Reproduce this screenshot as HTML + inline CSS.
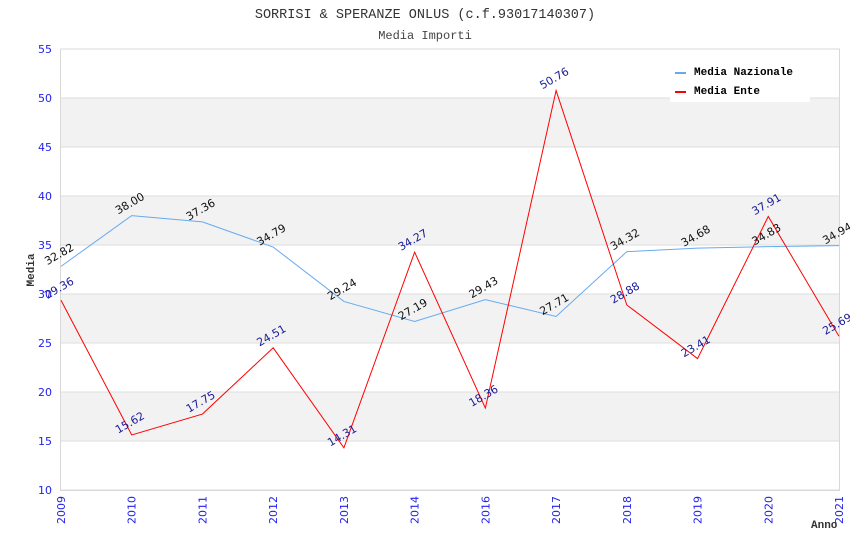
<!DOCTYPE html>
<html><head><meta charset="utf-8"><style>
body{margin:0;background:#fff;width:850px;height:550px;overflow:hidden}
svg{display:block}
</style></head><body>
<svg id="chart" width="850" height="550" xmlns="http://www.w3.org/2000/svg">
<text x="425" y="18" text-anchor="middle" font-family="Liberation Mono, monospace" font-size="13.5" fill="#333">SORRISI &amp; SPERANZE ONLUS (c.f.93017140307)</text>
<text x="425" y="39" text-anchor="middle" font-family="Liberation Mono, monospace" font-size="12" fill="#444">Media Importi</text>
<g id="grid"></g>
<g id="series"></g>
<g id="labels"></g>
<text transform="translate(34,270) rotate(-90)" text-anchor="middle" font-family="Liberation Mono, monospace" font-size="11" font-weight="bold" fill="#333">Media</text>
<text x="811" y="528" font-family="Liberation Mono, monospace" font-size="11" font-weight="bold" fill="#333">Anno</text>
<g>
<rect x="670" y="58" width="140" height="44" fill="#fff"/>
<line x1="675" y1="73" x2="686" y2="73" stroke="#66aaee" stroke-width="2"/>
<text x="694" y="75" font-family="Liberation Mono, monospace" font-size="11" font-weight="bold" fill="#000">Media Nazionale</text>
<line x1="675" y1="92" x2="686" y2="92" stroke="#ff0000" stroke-width="2"/>
<text x="694" y="94" font-family="Liberation Mono, monospace" font-size="11" font-weight="bold" fill="#000">Media Ente</text>
</g>
</svg>
<script>
const categories=["2009","2010","2011","2012","2013","2014","2016","2017","2018","2019","2020","2021"];
const nazionale=[32.82,38.00,37.36,34.79,29.24,27.19,29.43,27.71,34.32,34.68,34.83,34.94];
const ente=[29.36,15.62,17.75,24.51,14.31,34.27,18.36,50.76,28.88,23.41,37.91,25.69];
const yTicks=[10,15,20,25,30,35,40,45,50,55];
const NS="http://www.w3.org/2000/svg";
const L=61,R=839,T=49,B=490,yMin=10,yMax=55;
const xs=i=>L+(R-L)*i/(categories.length-1);
const ys=v=>B-(v-yMin)*(B-T)/(yMax-yMin);
function mk(tag,attrs,parent,txt){const e=document.createElementNS(NS,tag);for(const k in attrs)e.setAttribute(k,attrs[k]);if(txt!==undefined)e.textContent=txt;parent.appendChild(e);return e;}
const grid=document.getElementById('grid');
for(let i=0;i<yTicks.length-1;i++){
  if(yTicks[i]%10===5){const r=mk('rect',{x:L,y:ys(yTicks[i+1]),width:R-L,height:ys(yTicks[i])-ys(yTicks[i+1]),fill:'#f2f2f2'},grid);
  
  }
}
yTicks.forEach(v=>{
  const l=mk('line',{x1:L,x2:R,y1:ys(v),y2:ys(v),stroke:'#dddddd'},grid);
  
  
  const t=mk('text',{x:L-9,y:ys(v)+4,'text-anchor':'end','font-family':'DejaVu Sans, sans-serif','font-size':'11',fill:'#2222ee'},grid,String(v));
  
  
});
const ax=mk('path',{d:`M${L-0.5},${T} V${B+0.5} H${R+0.5} V${T} H${L-0.5}`,fill:'none',stroke:'#d8d8d8'},grid);


categories.forEach((c,i)=>{
  const t=mk('text',{transform:`translate(${xs(i)+4},${B+6}) rotate(-90)`,'text-anchor':'end','font-family':'DejaVu Sans, sans-serif','font-size':'11',fill:'#2222ee'},grid,c);
  
  
});
const ser=document.getElementById('series'),lab=document.getElementById('labels');
function draw(vals,color,lc,name){
  const p=mk('polyline',{points:vals.map((v,i)=>xs(i)+','+ys(v)).join(' '),fill:'none',stroke:color,'stroke-width':'1'},ser);
  
  
  vals.forEach((v,i)=>{
    const t=mk('text',{transform:`translate(${xs(i)},${ys(v)-9}) rotate(-30)`,'text-anchor':'middle','font-family':'DejaVu Sans, sans-serif','font-size':'11',fill:lc},lab,v.toFixed(2));
    
    
  });
}
draw(nazionale,'#66aaee','#111','nazionale');
draw(ente,'#ff0000','#1a1a99','ente');
</script>
</body></html>
